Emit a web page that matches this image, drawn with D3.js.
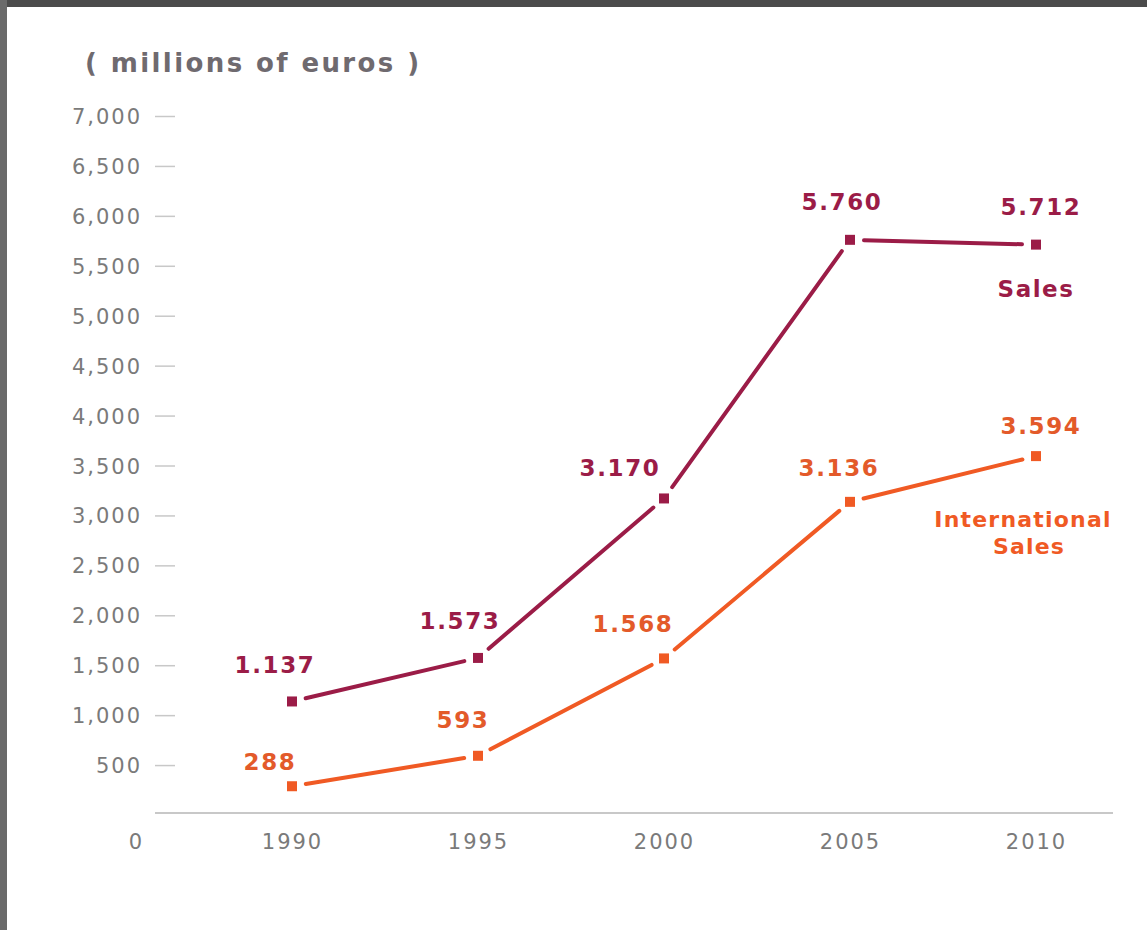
<!DOCTYPE html>
<html>
<head>
<meta charset="utf-8">
<script src="https://cdn.jsdelivr.net/npm/d3@7"></script>
<style>
  body { margin: 0; background: #fff; }
  svg { display: block; }
  .tick text { font-family: "DejaVu Sans", sans-serif; fill: #7a7a7a; }
</style>
</head>
<body>
<script>
// data
var years = [1990, 1995, 2000, 2005, 2010];
var sales = [1137, 1573, 3170, 5760, 5712];
var intlSales = [288, 593, 1568, 3136, 3594];
var salesLabels = ["1.137", "1.573", "3.170", "5.760", "5.712"];
var intlLabels = ["288", "593", "1.568", "3.136", "3.594"];
var yTicks = [500, 1000, 1500, 2000, 2500, 3000, 3500, 4000, 4500, 5000, 5500, 6000, 6500, 7000];

(function(){
	const W = 1147, H = 930;
	const SALES_COLOR = '#9b1c47';
	const INTL_COLOR = '#f05a24';
	const INTL_TEXT = '#e35a2a';

	var svg = d3.select('body').append('svg')
		.attr('width', W)
		.attr('height', H);

	// frame around the page
	svg.append('rect').attr('x', 0).attr('y', 0).attr('width', W).attr('height', H).attr('fill', '#fff');
	svg.append('rect').attr('x', 0).attr('y', 0).attr('width', W).attr('height', 7).attr('fill', '#4b4b4b');
	svg.append('rect').attr('x', 0).attr('y', 0).attr('width', 7).attr('height', H).attr('fill', '#6a6a6a');

	var x = d3.scaleLinear().domain([1990, 2010]).range([292, 1036]);
	var y = d3.scaleLinear().domain([0, 7000]).range([815, 116]);

	// unit caption
	svg.append('text')
		.attr('x', 85).attr('y', 72)
		.attr('font-family', 'DejaVu Sans, sans-serif')
		.attr('font-weight', 'bold')
		.attr('font-size', 26)
		.attr('letter-spacing', 2.4)
		.attr('fill', '#6f6a6f')
		.text('( millions of euros )');

	// Y axis
	var yAxis = svg.append('g')
		.attr('transform', 'translate(175,0)')
		.call(d3.axisLeft(y).tickValues(yTicks).tickSize(20).tickPadding(13)
			.tickFormat(d3.format(',')));
	yAxis.select('.domain').remove();
	yAxis.selectAll('.tick line').attr('stroke', '#c8c8c8').attr('stroke-width', 1.5);
	yAxis.selectAll('.tick text').attr('font-size', 21).attr('letter-spacing', 2).attr('dy', '0.36em');

	// X axis
	var xAxis = svg.append('g')
		.attr('transform', 'translate(0,' + (y(0) - 2) + ')')
		.call(d3.axisBottom(x).tickValues(years).tickSize(0).tickPadding(21)
			.tickFormat(d3.format('d')));
	xAxis.select('.domain').remove();
	xAxis.selectAll('.tick text').attr('font-size', 21).attr('letter-spacing', 2);

	// baseline
	svg.append('line')
		.attr('x1', 155).attr('x2', 1113)
		.attr('y1', y(0) - 2).attr('y2', y(0) - 2)
		.attr('stroke', '#c8c8c8').attr('stroke-width', 2);

	// zero label sits on the year row
	svg.append('text')
		.attr('x', 142).attr('y', y(0) - 2 + 21)
		.attr('dy', '0.71em')
		.attr('text-anchor', 'end')
		.attr('font-family', 'DejaVu Sans, sans-serif')
		.attr('font-size', 21)
		.attr('fill', '#7a7a7a')
		.text('0');

	// nudges for the value labels (by index)
	var salesNudge = [[-17, -28], [-18, -29], [-44, -22], [-8, -30], [5, -30]];
	var intlNudge = [[-22, -16], [-15, -28], [-31, -26], [-11, -26], [5, -22]];

	function drawSeries(values, labels, color, textColor, nudge){
		var pts = values.map(function(v, i){ return [x(years[i]), y(v)]; });
		var gap = 14;
		var segs = d3.pairs(pts).map(function(p){
			var dx = p[1][0] - p[0][0], dy = p[1][1] - p[0][1];
			var len = Math.sqrt(dx*dx + dy*dy);
			var ux = dx/len, uy = dy/len;
			return [[p[0][0] + ux*gap, p[0][1] + uy*gap], [p[1][0] - ux*gap, p[1][1] - uy*gap]];
		});
		var line = d3.line();
		var g = svg.append('g');
		g.selectAll('path.seg')
			.data(segs)
			.enter().append('path')
			.attr('class', 'seg')
			.attr('d', line)
			.attr('fill', 'none')
			.attr('stroke', color)
			.attr('stroke-width', 4)
			.attr('stroke-linecap', 'round');
		g.selectAll('rect')
			.data(pts)
			.enter().append('rect')
			.attr('x', function(d){ return d[0] - 5; })
			.attr('y', function(d){ return d[1] - 5; })
			.attr('width', 10)
			.attr('height', 10)
			.attr('fill', color);
		g.selectAll('text')
			.data(pts)
			.enter().append('text')
			.attr('x', function(d, i){ return d[0] + nudge[i][0]; })
			.attr('y', function(d, i){ return d[1] + nudge[i][1]; })
			.attr('text-anchor', 'middle')
			.attr('font-family', 'DejaVu Sans, sans-serif')
			.attr('font-weight', 'bold')
			.attr('font-size', 23)
			.attr('letter-spacing', 1.6)
			.attr('fill', textColor)
			.text(function(d, i){ return labels[i]; });
	}

	drawSeries(sales, salesLabels, SALES_COLOR, SALES_COLOR, salesNudge);
	drawSeries(intlSales, intlLabels, INTL_COLOR, INTL_TEXT, intlNudge);

	// series names
	var lastX = x(years[years.length - 1]);
	svg.append('text')
		.attr('x', lastX).attr('y', y(sales[sales.length - 1]) + 52)
		.attr('text-anchor', 'middle')
		.attr('font-family', 'DejaVu Sans, sans-serif')
		.attr('font-weight', 'bold')
		.attr('font-size', 23)
		.attr('letter-spacing', 1.5)
		.attr('fill', SALES_COLOR)
		.text('Sales');

	var intlName = svg.append('text')
		.attr('text-anchor', 'middle')
		.attr('font-family', 'DejaVu Sans, sans-serif')
		.attr('font-weight', 'bold')
		.attr('font-size', 22)
		.attr('letter-spacing', 1.2)
		.attr('fill', INTL_COLOR);
	intlName.append('tspan')
		.attr('x', lastX - 13).attr('y', y(intlSales[intlSales.length - 1]) + 71)
		.text('International');
	intlName.append('tspan')
		.attr('x', lastX - 7).attr('dy', 27)
		.text('Sales');
})();
</script>
</body>
</html>
